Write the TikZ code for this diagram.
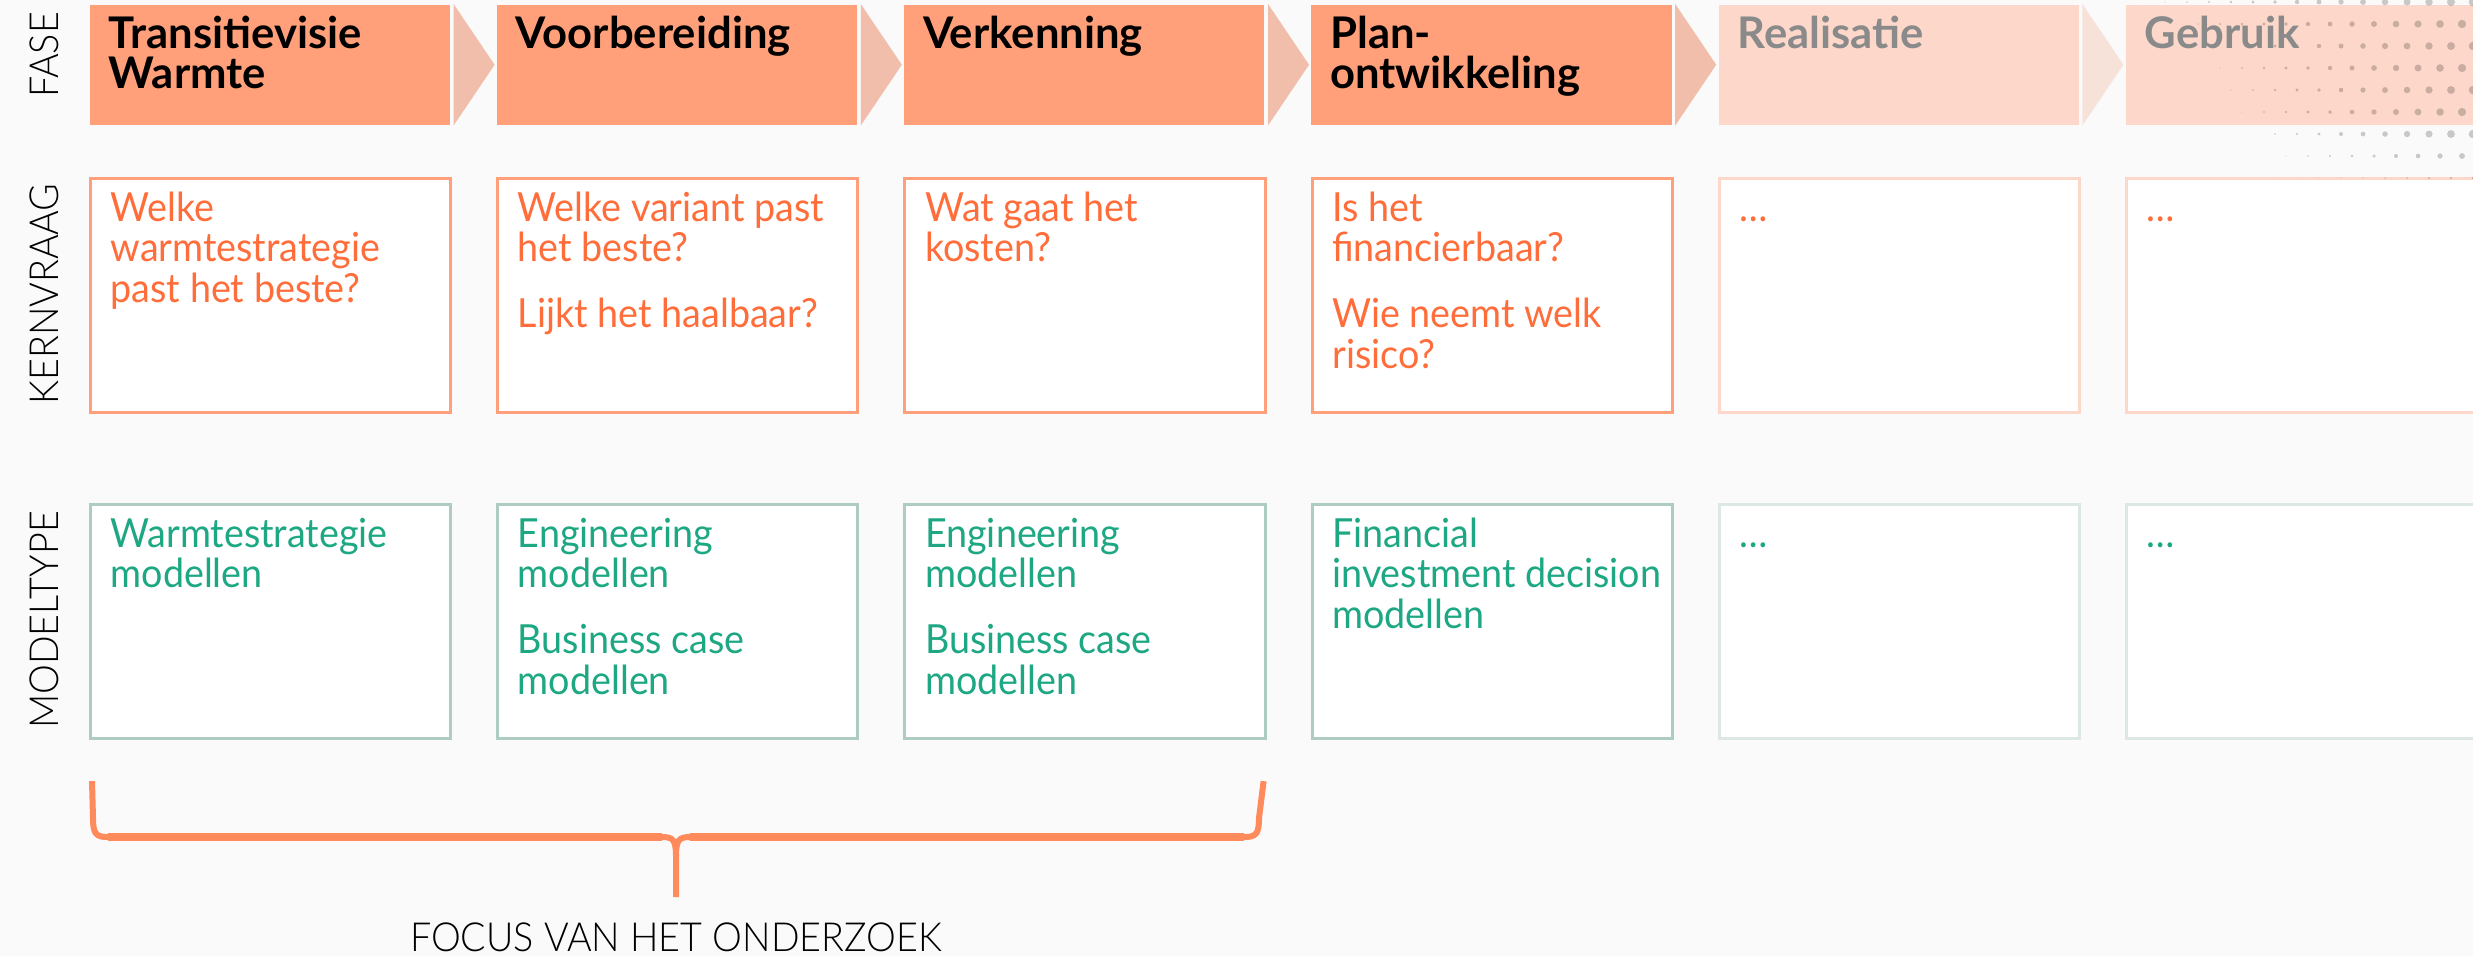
\documentclass[tikz,border=0pt]{standalone}
\usepackage{fontspec}
\setmainfont{Lato}
\newfontfamily\boekfont{Lato}[FakeStretch=0.94]
\newfontfamily\dunfont{Lato Light}[FakeStretch=0.94]
\usepackage{tikz}
\usetikzlibrary{calc}
\usetikzlibrary{math}

\definecolor{zalm}{HTML}{FFA07A}
\definecolor{zalmlicht}{HTML}{FDD8CA}
\definecolor{pijl}{HTML}{F0BEAA}
\definecolor{pijllicht}{HTML}{F7E2DA}
\definecolor{oranje}{HTML}{FF6D3A}
\definecolor{groen}{HTML}{1DA883}
\definecolor{groenrand}{HTML}{AECBC4}
\definecolor{groenlicht}{HTML}{DDE8E5}
\definecolor{grijs}{HTML}{8A8A8A}
\definecolor{accolade}{HTML}{FF8A5B}
\definecolor{achtergrond}{HTML}{FAFAFA}

\newcommand{\regels}[1]{\parbox[t]{3.6cm}{\raggedright #1}}

\tikzset{
  fasebox/.style={fill=#1, draw=none, anchor=north west, minimum width=3.6cm, minimum height=1.2cm, inner sep=0pt},
  kernbox/.style={draw=#1, fill=white, line width=0.85pt, anchor=north west, minimum width=3.6cm, minimum height=2.34cm, inner sep=0pt},
  modelbox/.style={draw=#1, fill=white, line width=0.85pt, anchor=north west, minimum width=3.6cm, minimum height=2.34cm, inner sep=0pt},
  titel/.style={anchor=base west, inner sep=0pt, text=#1, font=\fontsize{12.4pt}{11.4pt}\selectfont\bfseries},
  vraag/.style={anchor=base west, inner sep=0pt, text=#1, font=\fontsize{11.4pt}{11.6pt}\boekfont},
  zijlabel/.style={rotate=90, anchor=base, inner sep=0pt, font=\fontsize{11.4pt}{11.4pt}\dunfont},
  stip/.style={fill=black, opacity=0.2}
}

\begin{document}
\begin{tikzpicture}[x=0.01cm, y=-0.01cm]
            \tikzmath{\stap = 407.2; \links = 89;}
            \useasboundingbox (0,0) rectangle (2473,956);
            \fill[achtergrond] (0,0) rectangle (2473,956);
            % boxes per phase
            \foreach \i/\kl/\mr in {1/zalm/groenrand,2/zalm/groenrand,3/zalm/groenrand,4/zalm/groenrand,5/zalmlicht/groenlicht,6/zalmlicht/groenlicht} {
                \node[fasebox=\kl] (f\i) at ({\links+(\i-1)*\stap},4) {};
                \node[kernbox=\kl] (k\i) at ({\links+(\i-1)*\stap},177) {};
                \node[modelbox=\mr] (m\i) at ({\links+(\i-1)*\stap},503) {};
            }
            \foreach \i/\kl in {1/pijl,2/pijl,3/pijl,4/pijl,5/pijllicht} {
                \fill[\kl] ($(f\i.north east)+(3,0)$) -- ($(f\i.east)+(44,0)$) -- ($(f\i.south east)+(3,0)$) -- cycle;
            }
            % halftone dots top right
            \foreach \r in {0,...,8} {
                \foreach \c in {0,...,16} {
                    \pgfmathsetmacro{\px}{2473 - \c*22 - mod(\r,2)*11}
                    \pgfmathsetmacro{\py}{2 + \r*22}
                    \pgfmathsetmacro{\t}{max(0,(\px-2120-\py*0.8)/(353-\py*0.8))}
                    \pgfmathsetmacro{\rad}{0.2845*4.3*\t*min(1,max(0,(195-\py)/55))}
                    \fill[stip] (\px,\py) circle[radius=\rad pt];
                }
            }
            % labels on the left
            \node[zijlabel] (lfase) at (58,55) {FASE};
            \node[zijlabel] (lkern) at (58,294) {KERNVRAAG};
            \node[zijlabel] (lmodel) at (58,620) {MODELTYPE};
            % phase titles
            \node[titel=black] (t1) at ($(f1.north west)+(19,44)$) {\regels{Transitievisie\\Warmte}};
            \node[titel=black] (t2) at ($(f2.north west)+(19,44)$) {\regels{Voorbereiding}};
            \node[titel=black] (t3) at ($(f3.north west)+(19,44)$) {\regels{Verkenning}};
            \node[titel=black] (t4) at ($(f4.north west)+(19,44)$) {\regels{Plan-\\ontwikkeling}};
            \node[titel=grijs] (t5) at ($(f5.north west)+(19,44)$) {\regels{Realisatie}};
            \node[titel=grijs] (t6) at ($(f6.north west)+(19,44)$) {\regels{Gebruik}};
            % key questions
            \node[vraag=oranje] (v1) at ($(k1.north west)+(21,44)$) {\regels{Welke\\warmtestrategie\\past het beste?}};
            \node[vraag=oranje] (v2) at ($(k2.north west)+(21,44)$) {\regels{Welke variant past\\het beste?\\[0.25cm]Lijkt het haalbaar?}};
            \node[vraag=oranje] (v3) at ($(k3.north west)+(21,44)$) {\regels{Wat gaat het\\kosten?}};
            \node[vraag=oranje] (v4) at ($(k4.north west)+(21,44)$) {\regels{Is het\\financierbaar?\\[0.25cm]Wie neemt welk\\risico?}};
            \node[vraag=oranje] (v5) at ($(k5.north west)+(21,44)$) {\ldots};
            \node[vraag=oranje] (v6) at ($(k6.north west)+(21,44)$) {\ldots};
            % model types
            \node[vraag=groen] (n1) at ($(m1.north west)+(21,44)$) {\regels{Warmtestrategie\\modellen}};
            \node[vraag=groen] (n2) at ($(m2.north west)+(21,44)$) {\regels{Engineering\\modellen\\[0.25cm]Business case\\modellen}};
            \node[vraag=groen] (n3) at ($(m3.north west)+(21,44)$) {\regels{Engineering\\modellen\\[0.25cm]Business case\\modellen}};
            \node[vraag=groen] (n4) at ($(m4.north west)+(21,44)$) {\regels{Financial\\investment decision\\modellen}};
            \node[vraag=groen] (n5) at ($(m5.north west)+(21,44)$) {\ldots};
            \node[vraag=groen] (n6) at ($(m6.north west)+(21,44)$) {\ldots};
            % brace under the first three phases
            \coordinate (bl) at ($(m1.south west)+(3,41)$);
            \coordinate (br) at ($(m3.south east)+(-3,41)$);
            \coordinate (bm) at (676,897);
            \draw[accolade, line width=0.06cm] (bl) -- (93,818) .. controls (93,834) and (96,837) .. (108,837) -- (662,837) .. controls (673,837) and (676,840) .. (676,856) -- (bm);
            \draw[accolade, line width=0.06cm] (br) -- (1259,818) .. controls (1259,834) and (1256,837) .. (1244,837) -- (690,837) .. controls (679,837) and (676,840) .. (676,856);
            \draw[accolade, line width=0.085cm] (108,837) -- (662,837) (690,837) -- (1244,837);
            \node[anchor=base, inner sep=0pt, font=\fontsize{11.4pt}{11.4pt}\dunfont] (focus) at ($(bm)+(0,54)$) {FOCUS VAN HET ONDERZOEK};
        \end{tikzpicture}
\end{document}
